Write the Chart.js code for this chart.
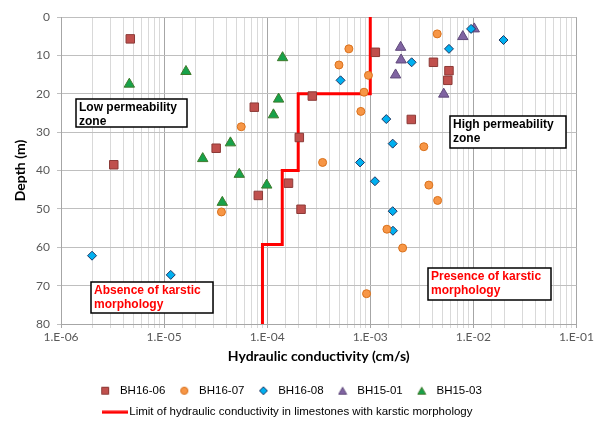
<!DOCTYPE html>
<html>
<head>
<meta charset="utf-8">
<script src="https://cdn.jsdelivr.net/npm/chart.js@4.4.1/dist/chart.umd.min.js"></script>
<style>
    html, body { margin: 0; padding: 0; background: #fff; }
</style>
</head>
<body>
<canvas id="chart" width="596" height="424"></canvas>
<script>
// ===========================
// Data
// ===========================
const seriesNames = ['BH16-06', 'BH16-07', 'BH16-08', 'BH15-01', 'BH15-03'];
const limitLabel = 'Limit of hydraulic conductivity in limestones with karstic morphology';

// hydraulic conductivity (cm/s) / depth (m)
const bh1606K = [4.7e-6, 1.12e-3, 4.1e-3, 5.8e-3, 5.65e-3, 7.5e-5, 2.74e-4, 2.5e-3, 3.2e-5, 3.25e-6, 2.05e-4, 1.61e-4, 8.2e-5, 2.13e-4];
const bh1606Depth = [5.7, 9.2, 11.8, 14.0, 16.5, 23.5, 20.6, 26.7, 34.2, 38.5, 31.4, 43.3, 46.5, 50.1];

const bh1607K = [6.2e-4, 4.46e-3, 4.97e-4, 9.6e-4, 8.7e-4, 8.1e-4, 5.6e-5, 3.45e-4, 3.31e-3, 3.7e-3, 4.5e-3, 3.6e-5, 1.45e-3, 2.06e-3, 9.2e-4];
const bh1607Depth = [8.3, 4.4, 12.5, 15.2, 19.6, 24.6, 28.6, 37.9, 33.8, 43.8, 47.8, 50.8, 55.3, 60.2, 72.1];

const bh1608K = [9.5e-3, 5.8e-3, 2.52e-3, 5.15e-4, 1.43e-3, 1.65e-3, 7.96e-4, 1.11e-3, 1.65e-3, 1.66e-3, 2.0e-6, 1.16e-5, 1.96e-2];
const bh1608Depth = [3.1, 8.3, 11.8, 16.5, 26.6, 33.0, 37.9, 42.8, 50.6, 55.7, 62.2, 67.2, 6.0];

const bh1501K = [1.97e-3, 1.99e-3, 1.76e-3, 7.9e-3, 1.02e-2, 5.16e-3];
const bh1501Depth = [7.9, 11.2, 15.1, 5.1, 3.1, 20.1];

const bh1503K = [4.6e-6, 1.63e-5, 1.41e-4, 1.29e-4, 1.15e-4, 4.4e-5, 2.37e-5, 5.36e-5, 9.9e-5, 3.67e-5];
const bh1503Depth = [17.5, 14.2, 10.6, 21.4, 25.5, 32.8, 36.9, 41.0, 43.8, 48.3];

// karstic limit (step line)
const limitK = [1e-3, 1e-3, 2e-4, 2e-4, 1.4e-4, 1.4e-4, 9e-5, 9e-5];
const limitDepth = [0, 20, 20, 40, 40, 59.3, 59.3, 80];

// axis ticks
const xTickLabels = ['1.E-06', '1.E-05', '1.E-04', '1.E-03', '1.E-02', '1.E-01'];
const yTicks = [0, 10, 20, 30, 40, 50, 60, 70, 80];

// ===========================
// Styling
// ===========================
const markerStyles = [
    { shape: 'rect',     radius: 6,   fill: '#c0504d', border: '#8c3a37' },
    { shape: 'circle',   radius: 4,   fill: '#f79646', border: '#d9711c' },
    { shape: 'rectRot',  radius: 4.5, fill: '#00b0f0', border: '#1f3864' },
    { shape: 'triangle', radius: 6,   fill: '#8064a2', border: '#604a7b' },
    { shape: 'triangle', radius: 6,   fill: '#17a24a', border: '#3f7a2c' }
];

const noteBoxes = [
    { lines: ['Low permeability', 'zone'], color: '#000000', left: 76, top: 99, width: 111, height: 28 },
    { lines: ['High permeability', 'zone'], color: '#000000', left: 450, top: 116, width: 116, height: 32 },
    { lines: ['Absence of karstic', 'morphology'], color: '#ff0000', left: 91, top: 282, width: 122, height: 31 },
    { lines: ['Presence of karstic', 'morphology'], color: '#ff0000', left: 428, top: 268, width: 123, height: 32 }
];

const toPoints = (xs, ys) => xs.map((x, i) => ({ x: x, y: ys[i] }));

const isDecade = v => Math.abs(Math.log10(v) - Math.round(Math.log10(v))) < 1e-6;

/**
 * Small canvas icon for the legend
 */
function makeIcon(shape, fill, stroke) {
    const cv = document.createElement('canvas');
    if (shape === 'line') {
        cv.width = 26; cv.height = 4;
        const g = cv.getContext('2d');
        g.fillStyle = fill;
        g.fillRect(0, 0.5, 26, 3);
        return cv;
    }
    cv.width = 10; cv.height = 10;
    const g = cv.getContext('2d');
    g.fillStyle = fill;
    g.strokeStyle = stroke;
    g.lineWidth = 1;
    g.beginPath();
    if (shape === 'rect') {
        g.rect(1.5, 1.5, 7, 7);
    } else if (shape === 'circle') {
        g.arc(5, 5, 3.6, 0, Math.PI * 2);
    } else if (shape === 'rectRot') {
        g.moveTo(5, 1); g.lineTo(9, 5); g.lineTo(5, 9); g.lineTo(1, 5); g.closePath();
    } else {
        g.moveTo(5, 1.5); g.lineTo(9, 8.5); g.lineTo(1, 8.5); g.closePath();
    }
    g.fill();
    g.stroke();
    return cv;
}

const seriesK = [bh1606K, bh1607K, bh1608K, bh1501K, bh1503K];
const seriesDepth = [bh1606Depth, bh1607Depth, bh1608Depth, bh1501Depth, bh1503Depth];

const datasets = seriesNames.map((name, i) => ({
    label: name,
    data: toPoints(seriesK[i], seriesDepth[i]),
    pointStyle: markerStyles[i].shape,
    pointRadius: markerStyles[i].radius,
    pointHoverRadius: markerStyles[i].radius,
    backgroundColor: markerStyles[i].fill,
    borderColor: markerStyles[i].border,
    borderWidth: 1,
    showLine: false
}));

datasets.push({
    label: limitLabel,
    data: toPoints(limitK, limitDepth),
    showLine: true,
    borderColor: '#ff0000',
    backgroundColor: '#ff0000',
    borderWidth: 3,
    pointRadius: 0,
    fill: false
});

const legendIcons = markerStyles.map(m => makeIcon(m.shape, m.fill, m.border));
legendIcons.push(makeIcon('line', '#ff0000'));

// Text boxes drawn on top of the plot
const notesPlugin = {
    id: 'notes',
    afterDatasetsDraw(chart) {
        const ctx = chart.ctx;
        ctx.save();
        noteBoxes.forEach(b => {
            ctx.fillStyle = '#ffffff';
            ctx.fillRect(b.left, b.top, b.width, b.height);
            ctx.strokeStyle = '#000000';
            ctx.lineWidth = 1.5;
            ctx.strokeRect(b.left, b.top, b.width, b.height);
            ctx.fillStyle = b.color;
            ctx.font = 'bold 12px "Liberation Sans", Arial, sans-serif';
            ctx.textAlign = 'left';
            ctx.textBaseline = 'alphabetic';
            b.lines.forEach((t, j) => ctx.fillText(t, b.left + 3, b.top + 11.5 + j * 14.5));
        });
        ctx.restore();
    }
};

const tickFont = { family: 'Lato, "Liberation Sans", sans-serif', size: 12 };
const titleFont = { family: 'Lato, "Liberation Sans", sans-serif', size: 14, weight: 'bold' };

new Chart(document.getElementById('chart'), {
    type: 'scatter',
    data: { datasets: datasets },
    options: {
        responsive: false,
        devicePixelRatio: 1,
        animation: false,
        layout: { padding: { top: 17, right: 18, left: 0, bottom: 0 } },
        plugins: {
            tooltip: { enabled: false },
            legend: {
                position: 'bottom',
                maxHeight: 49,
                labels: {
                    usePointStyle: true,
                    pointStyleWidth: 18,
                    boxHeight: 10,
                    padding: 10,
                    color: '#404040',
                    font: { family: '"Liberation Sans", Arial, sans-serif', size: 11.5 },
                    generateLabels: chart => chart.data.datasets.map((ds, i) => ({
                        text: ds.label,
                        pointStyle: legendIcons[i],
                        fillStyle: ds.backgroundColor,
                        strokeStyle: ds.borderColor,
                        lineWidth: 0,
                        hidden: false,
                        datasetIndex: i
                    }))
                }
            }
        },
        scales: {
            x: {
                type: 'logarithmic',
                min: 1e-6,
                max: 1e-1,
                afterFit: s => { s.height = 51; },
                border: { color: '#a6a6a6' },
                grid: {
                    color: c => (c.tick && isDecade(c.tick.value)) ? '#a6a6a6' : '#d9d9d9',
                    tickLength: 4
                },
                ticks: {
                    autoSkip: false,
                    maxRotation: 0,
                    minRotation: 0,
                    padding: 2,
                    color: '#595959',
                    font: tickFont,
                    callback: v => isDecade(v) ? xTickLabels[Math.round(Math.log10(v)) + 6] : ''
                },
                title: {
                    display: true,
                    text: 'Hydraulic conductivity (cm/s)',
                    color: '#000000',
                    font: titleFont,
                    padding: { top: 0, bottom: 10.5 }
                }
            },
            y: {
                type: 'linear',
                reverse: true,
                min: 0,
                max: 80,
                afterFit: s => { s.width = 61; },
                afterBuildTicks: s => { s.ticks = yTicks.map(v => ({ value: v })); },
                border: { color: '#a6a6a6' },
                grid: { color: '#bfbfbf', tickLength: 4 },
                ticks: {
                    padding: 7,
                    color: '#595959',
                    font: tickFont
                },
                title: {
                    display: true,
                    text: 'Depth (m)',
                    color: '#000000',
                    font: titleFont,
                    padding: { top: 12.5, bottom: 0 }
                }
            }
        }
    },
    plugins: [notesPlugin]
});
</script>
</body>
</html>
